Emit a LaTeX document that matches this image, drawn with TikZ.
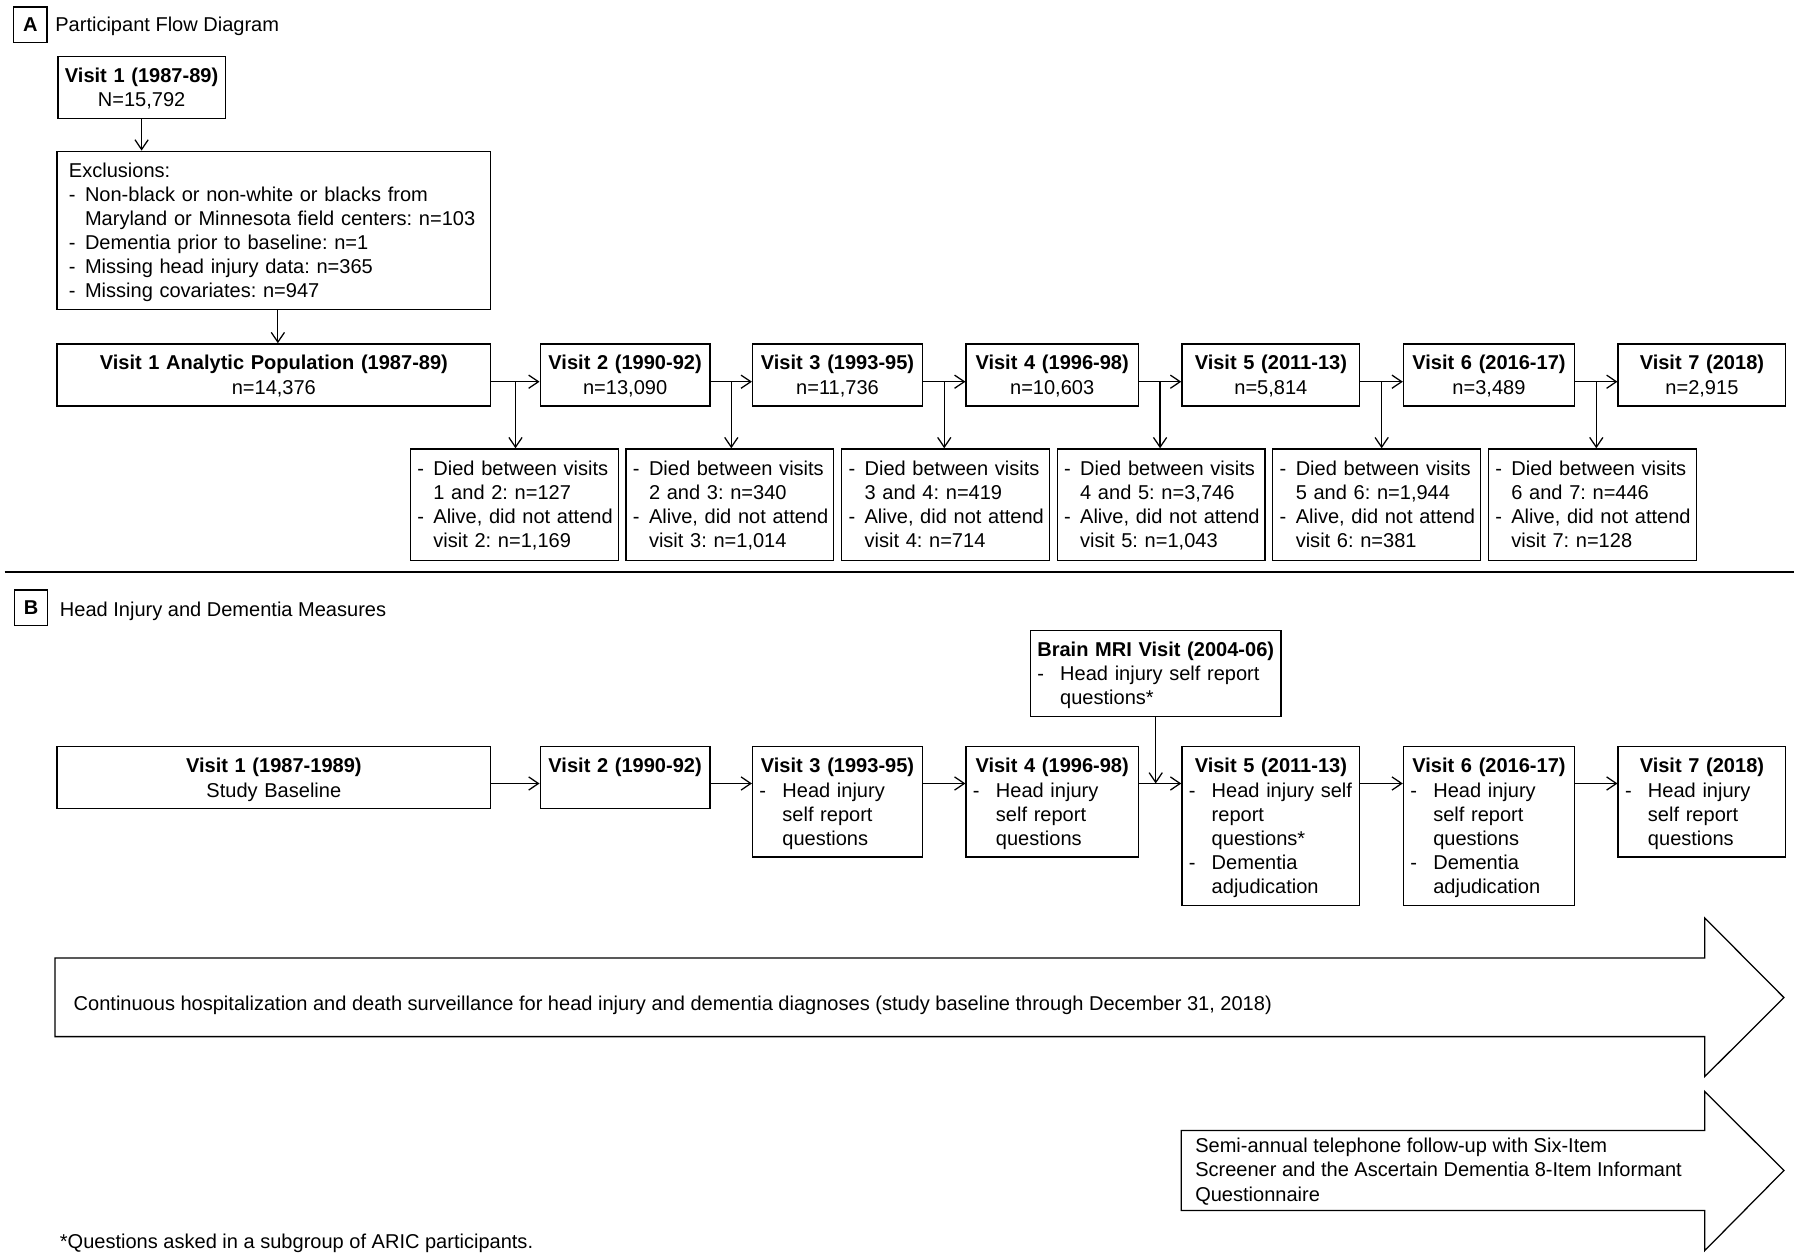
\documentclass[tikz,border=0pt]{standalone}
\usepackage{fontspec}
\setmainfont{Liberation Sans}
\usetikzlibrary{arrows.meta, positioning, calc}
\setlength{\parindent}{0pt}
\frenchspacing
\newcommand{\linestrut}{\rule[-4.25pt]{0pt}{21pt}}
\newcommand{\boxtext}[1]{\mbox{\linestrut#1}}
\newcommand{\boxhead}[1]{\makebox[\hsize]{\linestrut\textbf{#1}}}
\newcommand{\boxitem}[2][14pt]{\mbox{\linestrut\makebox[#1][l]{-}#2}}
\newcommand{\boxcont}[2][14pt]{\mbox{\linestrut\hspace*{#1}#2}}
\tikzstyle{box} = [rectangle, draw=black, line width=1.1pt, inner xsep=6pt, inner ysep=6pt, anchor=north west, align=left]
\tikzstyle{visit} = [box, align=center]
\tikzstyle{drop} = [box, text width=169pt, inner ysep=6.5pt]
\tikzstyle{panel} = [rectangle, draw=black, line width=1.1pt, minimum width=29pt, minimum height=31pt, inner sep=0pt, font=\fontsize{17.45pt}{21pt}\selectfont\bfseries]
\tikzstyle{paneltitle} = [anchor=west, inner sep=0pt, align=left]
\tikzstyle{arrow} = [line width=1.1pt, ->, >={Straight Barb[length=8.5pt, width=11.5pt]}]
\tikzstyle{band} = [line width=1.1pt, line join=miter]
\begin{document}
\begin{tikzpicture}[x=1pt, y=-1pt, every node/.style={font=\fontsize{17.45pt}{21pt}\selectfont}]
\useasboundingbox (0,0) rectangle (1568,1095.9);

\node (tagA) [panel] at (26.5,21.5) {A};
\node (titleA) [paneltitle] at (48,21) {\boxtext{Participant Flow Diagram}};

\node (v1top) [visit, text width=133.6pt] at (50,48.5) {\boxtext{\textbf{Visit 1 (1987-89)}}\\\boxtext{N=15,792}};
\node (excl) [box, text width=357pt, inner xsep=10.5pt] at (49,131.2) {\boxtext{Exclusions:}\\\boxitem{Non-black or non-white or blacks from}\\\boxcont{Maryland or Minnesota field centers: n=103}\\\boxitem{Dementia prior to baseline: n=1}\\\boxitem{Missing head injury data: n=365}\\\boxitem{Missing covariates: n=947}};

\node (v1a) [visit, text width=366pt] at (49,299) {\boxtext{\textbf{Visit 1 Analytic Population (1987-89)}}\\\boxtext{n=14,376}};
\node (v2a) [visit, text width=136pt] at (470,299) {\boxtext{\textbf{Visit 2 (1990-92)}}\\\boxtext{n=13,090}};
\node (v3a) [visit, text width=136pt] at (655,299) {\boxtext{\textbf{Visit 3 (1993-95)}}\\\boxtext{n=11,736}};
\node (v4a) [visit, text width=138pt] at (841,299) {\boxtext{\textbf{Visit 4 (1996-98)}}\\\boxtext{n=10,603}};
\node (v5a) [visit, text width=143pt] at (1029,299) {\boxtext{\textbf{Visit 5 (2011-13)}}\\\boxtext{n=5,814}};
\node (v6a) [visit, text width=137pt] at (1222,299) {\boxtext{\textbf{Visit 6 (2016-17)}}\\\boxtext{n=3,489}};
\node (v7a) [visit, text width=134pt] at (1409,299) {\boxtext{\textbf{Visit 7 (2018)}}\\\boxtext{n=2,915}};

\node (d1) [drop] at (357,390.5) {\boxitem{Died between visits}\\\boxcont{1 and 2: n=127}\\\boxitem{Alive, did not attend}\\\boxcont{visit 2: n=1,169}};
\node (d2) [drop, right=5.7pt of d1] {\boxitem{Died between visits}\\\boxcont{2 and 3: n=340}\\\boxitem{Alive, did not attend}\\\boxcont{visit 3: n=1,014}};
\node (d3) [drop, right=5.7pt of d2] {\boxitem{Died between visits}\\\boxcont{3 and 4: n=419}\\\boxitem{Alive, did not attend}\\\boxcont{visit 4: n=714}};
\node (d4) [drop, right=5.7pt of d3] {\boxitem{Died between visits}\\\boxcont{4 and 5: n=3,746}\\\boxitem{Alive, did not attend}\\\boxcont{visit 5: n=1,043}};
\node (d5) [drop, right=5.7pt of d4] {\boxitem{Died between visits}\\\boxcont{5 and 6: n=1,944}\\\boxitem{Alive, did not attend}\\\boxcont{visit 6: n=381}};
\node (d6) [drop, right=5.7pt of d5] {\boxitem{Died between visits}\\\boxcont{6 and 7: n=446}\\\boxitem{Alive, did not attend}\\\boxcont{visit 7: n=128}};

\coordinate (ra) at (0,332.5);
\coordinate (ex) at ([xshift=3.5pt]excl.south);
\coordinate (m1) at ($(v1a.east)!0.5!(v2a.west)$);
\coordinate (m2) at ($(v2a.east)!0.5!(v3a.west)$);
\coordinate (m3) at ($(v3a.east)!0.5!(v4a.west)$);
\coordinate (m4) at ($(v4a.east)!0.5!(v5a.west)$);
\coordinate (m5) at ($(v5a.east)!0.5!(v6a.west)$);
\coordinate (m6) at ($(v6a.east)!0.5!(v7a.west)$);

\draw [arrow] (v1top.south) -- (v1top.south |- excl.north);
\draw [arrow] (ex) -- (ex |- v1a.north);
\draw [arrow] (v1a.east |- ra) -- (v2a.west |- ra);
\draw [arrow] (v2a.east |- ra) -- (v3a.west |- ra);
\draw [arrow] (v3a.east |- ra) -- (v4a.west |- ra);
\draw [arrow] (v4a.east |- ra) -- (v5a.west |- ra);
\draw [arrow] (v5a.east |- ra) -- (v6a.west |- ra);
\draw [arrow] (v6a.east |- ra) -- (v7a.west |- ra);
\draw [arrow] (m1 |- ra) -- (m1 |- d1.north);
\draw [arrow] (m2 |- ra) -- (m2 |- d2.north);
\draw [arrow] (m3 |- ra) -- (m3 |- d3.north);
\draw [arrow] (m4 |- ra) -- (m4 |- d4.north);
\draw [arrow] (m5 |- ra) -- (m5 |- d5.north);
\draw [arrow] (m6 |- ra) -- (m6 |- d6.north);

\draw [line width=1.5pt] (4,498) -- (1563,498);

\node (tagB) [panel] at (27,529.5) {B};
\node (titleB) [paneltitle] at (52,531) {\boxtext{Head Injury and Dementia Measures}};

\node (mri) [box, text width=206.4pt] at (897,548.8) {\boxhead{Brain MRI Visit (2004-06)}\\\boxitem[20pt]{Head injury self report}\\\boxcont[20pt]{questions*}};

\node (v1b) [visit, text width=366pt] at (49,650) {\boxtext{\textbf{Visit 1 (1987-1989)}}\\\boxtext{Study Baseline}};
\node (v2b) [visit, text width=136pt] at (470,650) {\boxtext{\textbf{Visit 2 (1990-92)}}\\\boxtext{}};
\node (v3b) [box, text width=136pt] at (655,650) {\boxhead{Visit 3 (1993-95)}\\\boxitem[20pt]{Head injury}\\\boxcont[20pt]{self report}\\\boxcont[20pt]{questions}};
\node (v4b) [box, text width=138pt] at (841,650) {\boxhead{Visit 4 (1996-98)}\\\boxitem[20pt]{Head injury}\\\boxcont[20pt]{self report}\\\boxcont[20pt]{questions}};
\node (v5b) [box, text width=143pt] at (1029,650) {\boxhead{Visit 5 (2011-13)}\\\boxitem[20pt]{Head injury self}\\\boxcont[20pt]{report}\\\boxcont[20pt]{questions*}\\\boxitem[20pt]{Dementia}\\\boxcont[20pt]{adjudication}};
\node (v6b) [box, text width=137pt] at (1222,650) {\boxhead{Visit 6 (2016-17)}\\\boxitem[20pt]{Head injury}\\\boxcont[20pt]{self report}\\\boxcont[20pt]{questions}\\\boxitem[20pt]{Dementia}\\\boxcont[20pt]{adjudication}};
\node (v7b) [box, text width=134pt] at (1409,650) {\boxhead{Visit 7 (2018)}\\\boxitem[20pt]{Head injury}\\\boxcont[20pt]{self report}\\\boxcont[20pt]{questions}};

\coordinate (rb) at (0,682.5);
\draw [arrow] (v1b.east |- rb) -- (v2b.west |- rb);
\draw [arrow] (v2b.east |- rb) -- (v3b.west |- rb);
\draw [arrow] (v3b.east |- rb) -- (v4b.west |- rb);
\draw [arrow] (v4b.east |- rb) -- (v5b.west |- rb);
\draw [arrow] (v5b.east |- rb) -- (v6b.west |- rb);
\draw [arrow] (v6b.east |- rb) -- (v7b.west |- rb);
\draw [arrow] (mri.south) -- (mri.south |- rb);

\draw [band] (48,834.6) -- (1485,834.6) -- (1485,799.6) -- (1554,869) -- (1485,937.8) -- (1485,903) -- (48,903) -- cycle;
\node (surv) [paneltitle] at (64,874) {\boxtext{Continuous hospitalization and death surveillance for head injury and dementia diagnoses (study baseline through December 31, 2018)}};

\draw [band] (1029,984.8) -- (1485,984.8) -- (1485,950.8) -- (1554,1019.6) -- (1485,1089.4) -- (1485,1054.5) -- (1029,1054.5) -- cycle;
\node (phone) [paneltitle] at (1041,1019) {\boxtext{Semi-annual telephone follow-up with Six-Item}\\\boxtext{Screener and the Ascertain Dementia 8-Item Informant}\\\boxtext{Questionnaire}};

\node (note) [paneltitle] at (52,1081) {\boxtext{*Questions asked in a subgroup of ARIC participants.}};

\end{tikzpicture}
\end{document}
